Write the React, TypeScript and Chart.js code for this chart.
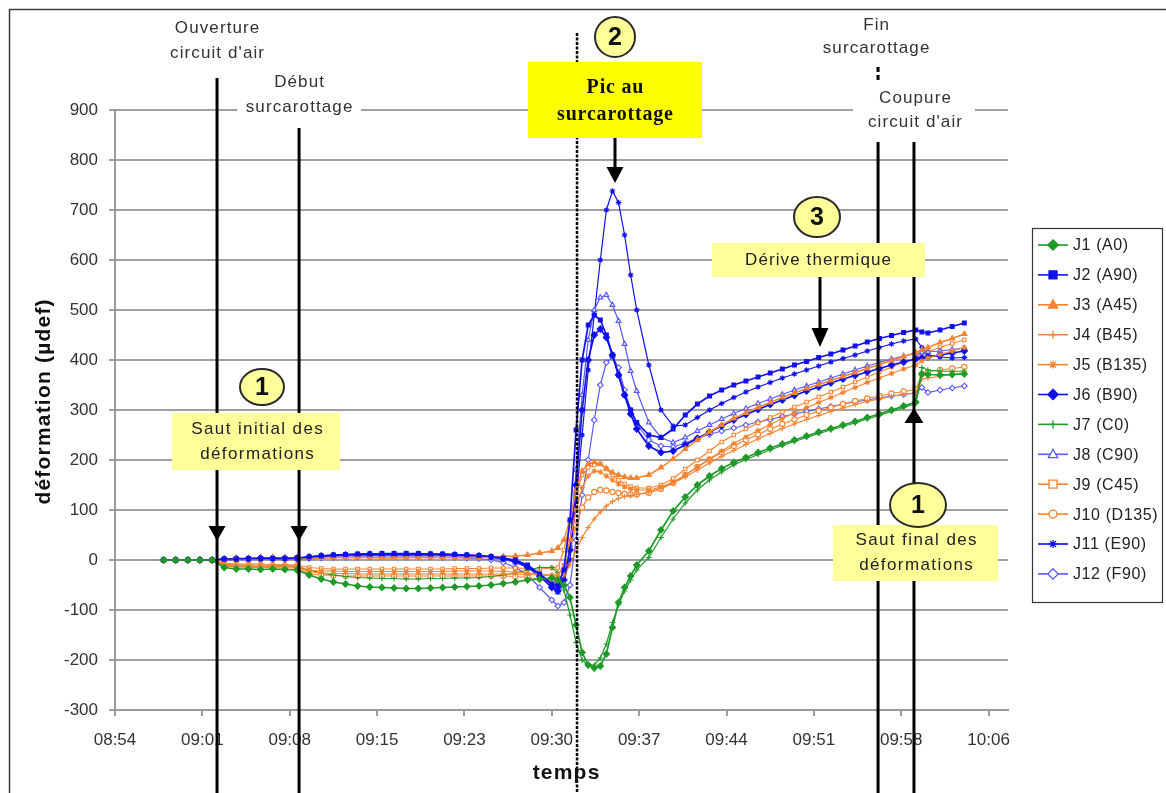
import React, { useEffect, useRef } from "react";
import { Chart, registerables } from "chart.js";

Chart.register(...registerables);

// ---------- DATA ----------
// x axis: minutes elapsed after 08:54, major unit 7.2 min (Excel 0.005 day)
const TICK_STEP_MIN = 7.2;
const X_MAX_MIN = 73.6;
const timeTickLabels = ["08:54", "09:01", "09:08", "09:15", "09:23", "09:30", "09:37", "09:44", "09:51", "09:58", "10:06"];
const yMin = -300;
const yMax = 900;
const yStep = 100;

// reading times (minutes after 08:54)
const minutes = [
  4, 5, 6, 7, 8, 9, 10, 11, 12, 13, 14, 15, 16, 17, 18, 19, 20, 21, 22, 23, 24, 25, 26, 27, 28, 29, 30, 31, 32, 33, 34, 35, 36,
  36.5, 37, 37.5, 38, 38.5, 39, 39.5, 40, 40.5, 41, 41.5, 42, 42.5, 43,
  44, 45, 46, 47, 48, 49, 50, 51, 52, 53, 54, 55, 56, 57, 58, 59, 60, 61, 62, 63, 64, 65, 66, 66.5, 67, 68, 69, 70,
];

const j1 = [
  0, 0, 0, 0, 0, -15, -18, -18, -19, -18, -19, -20, -30, -38, -44, -48, -52, -54, -55, -56, -57, -57, -56, -55, -54, -53, -52, -50, -47, -44, -40, -38, -36,
  -40, -50, -75, -130, -185, -210, -216, -212, -188, -135, -85, -55, -32, -10,
  18, 60, 98, 126, 150, 168, 183, 195, 205, 215, 224, 232, 240, 248, 256, 263, 270, 277, 285, 292, 300, 308, 316, 372, 371, 370, 371, 372,
];
const j2 = [
  0, 0, 0, 0, 0, 2, 2, 3, 3, 3, 3, 4, 6, 8, 10, 11, 12, 12, 13, 13, 13, 13, 12, 12, 11, 10, 9, 7, 4, 0, -10, -28, -48,
  -50, -20, 80, 260, 400, 470, 490, 480, 450, 410, 370, 330, 300, 275,
  250, 245, 262, 290, 312, 328, 340, 350, 358, 366, 374, 382, 390, 397, 405, 412, 420, 428, 436, 443, 449, 455, 460, 456, 454, 460, 467, 474,
];
const j3 = [
  0, 0, 0, 0, 0, 1, 2, 2, 2, 3, 3, 3, 4, 4, 5, 5, 5, 5, 4, 4, 5, 5, 5, 5, 5, 5, 5, 6, 7, 8, 10, 14, 18,
  24, 40, 80, 140, 178, 192, 196, 192, 183, 175, 170, 166, 164, 164,
  170, 185, 202, 222, 240, 256, 270, 283, 294, 305, 315, 325, 334, 343, 351, 359, 367, 375, 383, 391, 399, 407, 415, 420, 425, 435, 443, 452,
];
const j4 = [
  0, 0, 0, 0, 0, -10, -12, -12, -13, -13, -13, -14, -24, -26, -27, -27, -28, -28, -28, -28, -28, -28, -28, -28, -28, -28, -28, -28, -28, -28, -29, -30, -32,
  -35, -30, -10, 20, 45, 65, 82, 96, 108, 117, 123, 127, 129, 131,
  136, 144, 154, 166, 180, 194, 207, 219, 231, 242, 253, 263, 272, 281, 289, 297, 304, 311, 317, 322, 327, 331, 335, 362, 364, 367, 371, 375,
];
const j5 = [
  0, 0, 0, 0, 0, -8, -10, -10, -10, -11, -11, -12, -20, -22, -22, -23, -23, -23, -23, -23, -23, -23, -23, -23, -22, -22, -22, -22, -23, -24, -26, -28, -30,
  -30, -10, 40, 100, 145, 168, 178, 176, 168, 160, 152, 146, 142, 140,
  140, 146, 156, 170, 186, 202, 218, 233, 246, 259, 271, 283, 294, 305, 315, 325, 335, 345, 355, 364, 373, 382, 390, 398, 404, 411, 418, 425,
];
const j6 = [
  0, 0, 0, 0, 0, 2, 3, 3, 4, 4, 4, 4, 6, 8, 9, 10, 10, 11, 11, 11, 11, 11, 11, 10, 10, 9, 8, 6, 3, -3, -14, -32, -55,
  -62, -40, 20, 150, 300, 400, 450, 462, 445, 410, 370, 330, 292, 262,
  228, 215, 218, 230, 243, 256, 268, 280, 291, 301, 311, 320, 329, 338, 346, 354, 362, 369, 376, 383, 390, 396, 402, 404, 406, 410, 414, 418,
];
const j7 = [
  0, 0, 0, 0, 0, -10, -12, -12, -13, -12, -13, -14, -20, -26, -30, -33, -35, -36, -37, -37, -38, -38, -37, -37, -36, -36, -35, -33, -30, -26, -20, -15, -15,
  -25, -60, -110, -165, -200, -212, -210, -196, -168, -125, -90, -62, -40, -20,
  5, 45, 82, 114, 140, 160, 176, 190, 201, 211, 220, 229, 237, 245, 253, 260, 267, 274, 282, 289, 297, 305, 313, 385, 380, 378, 377, 378,
];
const j8 = [
  0, 0, 0, 0, 0, 0, 1, 1, 2, 2, 2, 2, 5, 6, 7, 8, 8, 9, 9, 9, 9, 9, 9, 8, 8, 7, 6, 4, 1, -5, -15, -30, -50,
  -65, -50, 30, 180, 330, 440, 500, 525, 530, 510, 478, 432, 378, 338,
  275, 245, 235, 245, 258, 270, 282, 293, 303, 313, 322, 331, 340, 348, 356, 364, 372, 380, 388, 395, 402, 408, 413, 415, 416, 418, 421, 424,
];
const j9 = [
  0, 0, 0, 0, 0, -6, -8, -8, -8, -9, -9, -10, -15, -17, -18, -18, -18, -18, -18, -18, -18, -18, -18, -18, -17, -17, -17, -16, -16, -16, -17, -18, -16,
  -15, 20, 70, 130, 170, 185, 190, 192, 182, 170, 160, 152, 147, 144,
  144, 150, 163, 182, 200, 218, 236, 250, 262, 274, 285, 296, 306, 316, 326, 336, 346, 356, 366, 376, 386, 395, 404, 410, 416, 425, 433, 440,
];
const j10 = [
  0, 0, 0, 0, 0, -12, -14, -15, -15, -15, -16, -16, -28, -30, -31, -32, -32, -32, -32, -32, -32, -32, -32, -32, -32, -32, -32, -32, -32, -33, -35, -38, -42,
  -45, -25, 20, 70, 105, 125, 136, 140, 139, 136, 134, 132, 131, 131,
  134, 142, 154, 170, 186, 201, 215, 228, 240, 251, 262, 272, 281, 290, 298, 305, 312, 318, 323, 328, 333, 337, 341, 372, 376, 380, 383, 386,
];
const j11 = [
  0, 0, 0, 0, 0, 1, 2, 2, 2, 3, 3, 3, 7, 9, 10, 11, 12, 13, 13, 13, 13, 13, 12, 12, 11, 10, 9, 7, 4, -2, -12, -28, -45,
  -55, -40, 0, 120, 250, 380, 490, 600, 700, 738, 715, 650, 570, 500,
  390, 300, 268, 270, 285, 300, 313, 325, 336, 346, 355, 364, 372, 380, 388, 396, 403, 410, 418, 425, 432, 438, 442, 425, 410, 406, 404, 405,
];
const j12 = [
  0, 0, 0, 0, 0, -1, 0, 0, 1, 1, 1, 1, 3, 4, 5, 5, 6, 6, 6, 6, 6, 6, 6, 5, 5, 4, 3, 0, -5, -15, -30, -55, -80,
  -92, -85, -50, 40, 130, 200, 280, 350, 395, 406, 385, 340, 300, 272,
  240, 228, 226, 234, 244, 251, 258, 264, 270, 276, 281, 287, 292, 297, 302, 307, 312, 316, 320, 324, 328, 331, 334, 345, 335, 340, 344, 348,
];

const seriesNames = ["J1 (A0)", "J2 (A90)", "J3 (A45)", "J4 (B45)", "J5 (B135)", "J6 (B90)", "J7 (C0)", "J8 (C90)", "J9 (C45)", "J10 (D135)", "J11 (E90)", "J12 (F90)"];
const seriesValues = [j1, j2, j3, j4, j5, j6, j7, j8, j9, j10, j11, j12];

// event times (minutes after 08:54): ouverture air, début surcarottage, pic, fin surcarottage, coupure air
const eventMinutes = [8.41, 15.17, 38.08, 62.89, 65.85];

// ---------- STYLES ----------
const GREEN = "#1f9a28";
const BLUE = "#1010ee";
const LBLUE = "#5858ff";
const ORANGE = "#f7832f";

type Sty = { color: string; marker: string; open: boolean; width: number; r: number };
const styles: Sty[] = [
  { color: GREEN, marker: "rectRot", open: false, width: 1.7, r: 3.1 },
  { color: BLUE, marker: "rect", open: false, width: 1.7, r: 2.7 },
  { color: ORANGE, marker: "triangle", open: false, width: 1.5, r: 3 },
  { color: ORANGE, marker: "cross", open: false, width: 1.2, r: 2.8 },
  { color: ORANGE, marker: "star", open: false, width: 1.2, r: 2.8 },
  { color: BLUE, marker: "rectRot", open: false, width: 1.7, r: 3.1 },
  { color: GREEN, marker: "cross", open: false, width: 1.2, r: 2.8 },
  { color: LBLUE, marker: "triangle", open: true, width: 1.2, r: 2.8 },
  { color: ORANGE, marker: "rect", open: true, width: 1.2, r: 2.4 },
  { color: ORANGE, marker: "circle", open: true, width: 1.2, r: 2.6 },
  { color: BLUE, marker: "star", open: false, width: 1.2, r: 2.8 },
  { color: LBLUE, marker: "rectRot", open: true, width: 1.2, r: 2.8 },
];

const SANS = "'Liberation Sans', Arial, sans-serif";
const SERIF = "'Liberation Serif', 'Times New Roman', serif";

function setSpacing(ctx: any, px: number) {
  if ("letterSpacing" in ctx) ctx.letterSpacing = px + "px";
}

function txt(ctx: CanvasRenderingContext2D, s: string, x: number, y: number, font: string, color: string, spacing = 0, align: CanvasTextAlign = "center") {
  ctx.font = font;
  ctx.fillStyle = color;
  ctx.textAlign = align;
  ctx.textBaseline = "middle";
  setSpacing(ctx, spacing);
  ctx.fillText(s, x + (align === "center" ? spacing / 2 : 0), y);
  setSpacing(ctx, 0);
}

function vline(ctx: CanvasRenderingContext2D, x: number, y1: number, y2: number, w: number) {
  ctx.lineWidth = w;
  ctx.beginPath();
  ctx.moveTo(x, y1);
  ctx.lineTo(x, y2);
  ctx.stroke();
}

function head(ctx: CanvasRenderingContext2D, x: number, tip: number, w: number, h: number, down: boolean) {
  ctx.beginPath();
  ctx.moveTo(x, tip);
  const b = down ? tip - h : tip + h;
  ctx.lineTo(x - w / 2, b);
  ctx.lineTo(x + w / 2, b);
  ctx.closePath();
  ctx.fill();
}

function bubble(ctx: CanvasRenderingContext2D, cx: number, cy: number, rx: number, ry: number, label: string) {
  ctx.beginPath();
  ctx.ellipse(cx, cy, rx, ry, 0, 0, Math.PI * 2);
  ctx.fillStyle = "#ffff99";
  ctx.fill();
  ctx.lineWidth = 2;
  ctx.strokeStyle = "#2a2a2a";
  ctx.stroke();
  txt(ctx, label, cx, cy + 1, `bold 25px ${SANS}`, "#111");
}

function drawMarker(ctx: CanvasRenderingContext2D, style: string, x: number, y: number, r: number, color: string, open: boolean) {
  ctx.save();
  ctx.strokeStyle = color;
  ctx.fillStyle = open ? "#ffffff" : color;
  ctx.lineWidth = 1.3;
  ctx.beginPath();
  if (style === "circle") {
    ctx.arc(x, y, r, 0, Math.PI * 2);
    ctx.fill();
    ctx.stroke();
  } else if (style === "rect") {
    ctx.rect(x - r, y - r, 2 * r, 2 * r);
    ctx.fill();
    ctx.stroke();
  } else if (style === "rectRot") {
    const k = r * 1.3;
    ctx.moveTo(x, y - k);
    ctx.lineTo(x + k, y);
    ctx.lineTo(x, y + k);
    ctx.lineTo(x - k, y);
    ctx.closePath();
    ctx.fill();
    ctx.stroke();
  } else if (style === "triangle") {
    ctx.moveTo(x, y - r * 1.25);
    ctx.lineTo(x + r * 1.15, y + r * 0.85);
    ctx.lineTo(x - r * 1.15, y + r * 0.85);
    ctx.closePath();
    ctx.fill();
    ctx.stroke();
  } else if (style === "cross") {
    ctx.moveTo(x - r, y);
    ctx.lineTo(x + r, y);
    ctx.moveTo(x, y - r);
    ctx.lineTo(x, y + r);
    ctx.stroke();
  } else if (style === "star") {
    ctx.moveTo(x - r, y);
    ctx.lineTo(x + r, y);
    ctx.moveTo(x, y - r);
    ctx.lineTo(x, y + r);
    const d = r * 0.75;
    ctx.moveTo(x - d, y - d);
    ctx.lineTo(x + d, y + d);
    ctx.moveTo(x - d, y + d);
    ctx.lineTo(x + d, y - d);
    ctx.stroke();
  }
  ctx.restore();
}

const overlayPlugin = {
  id: "overlay",
  afterDatasetsDraw(chart: any) {
    const ctx: CanvasRenderingContext2D = chart.ctx;
    const xs = chart.scales.x;
    const px = (t: number) => xs.getPixelForValue(t);
    const [tOuv, tDeb, tPic, tFin, tCoup] = eventMinutes;
    const H = chart.height;
    ctx.save();
    ctx.strokeStyle = "#000";
    ctx.fillStyle = "#000";

    // vertical event lines
    vline(ctx, px(tOuv), 78, H, 3);
    vline(ctx, px(tDeb), 128, H, 3);
    vline(ctx, px(tFin), 142, H, 3);
    vline(ctx, px(tCoup), 142, H, 3);
    ctx.setLineDash([3, 1.5]);
    vline(ctx, px(tPic), 33, H, 2.5);
    ctx.setLineDash([5, 3]);
    vline(ctx, px(tFin), 67, 83, 3);
    ctx.setLineDash([]);

    // arrow heads on lines
    ctx.fillStyle = "#000";
    head(ctx, px(tOuv), 541, 17, 15, true);
    head(ctx, px(tDeb), 541, 17, 15, true);
    head(ctx, px(tCoup), 408, 19, 15, false);

    // top labels
    const lab = `17px ${SANS}`;
    const gray = "#333";
    txt(ctx, "Ouverture", px(tOuv), 28, lab, gray, 1.1);
    txt(ctx, "circuit d'air", px(tOuv), 53, lab, gray, 1.1);

    ctx.fillStyle = "#fff";
    ctx.fillRect(px(tDeb) - 62, 96, 124, 22);
    txt(ctx, "Début", px(tDeb), 82, lab, gray, 1.1);
    txt(ctx, "surcarottage", px(tDeb), 107, lab, gray, 1.1);

    txt(ctx, "Fin", px(tFin) - 2, 25, lab, gray, 1.1);
    txt(ctx, "surcarottage", px(tFin) - 2, 48, lab, gray, 1.1);

    ctx.fillStyle = "#fff";
    ctx.fillRect(px(tCoup) - 61, 86, 122, 48);
    txt(ctx, "Coupure", px(tCoup) + 1, 98, lab, gray, 1.1);
    txt(ctx, "circuit d'air", px(tCoup) + 1, 122, lab, gray, 1.1);

    // peak annotation
    ctx.fillStyle = "#ffff00";
    ctx.fillRect(528, 62, 174, 76);
    txt(ctx, "Pic au", 615, 88, `bold 20px ${SERIF}`, "#111", 0.8);
    txt(ctx, "surcarottage", 615, 115, `bold 20px ${SERIF}`, "#111", 0.8);
    ctx.strokeStyle = "#000";
    ctx.fillStyle = "#000";
    vline(ctx, 615, 138, 170, 3);
    head(ctx, 615, 183, 17, 16, true);
    bubble(ctx, 615, 37, 20, 20, "2");

    // thermal drift
    ctx.fillStyle = "#ffff99";
    ctx.fillRect(712, 243, 213, 34);
    txt(ctx, "Dérive thermique", 818, 260, lab, "#222", 1.1);
    ctx.strokeStyle = "#000";
    ctx.fillStyle = "#000";
    vline(ctx, 820, 277, 332, 3);
    head(ctx, 820, 347, 17, 19, true);
    bubble(ctx, 817, 217, 23, 20, "3");

    // initial jump
    ctx.fillStyle = "#ffff99";
    ctx.fillRect(172, 413, 168, 57);
    txt(ctx, "Saut initial des", 257, 429, lab, "#222", 1.4);
    txt(ctx, "déformations", 257, 454, lab, "#222", 1.4);
    bubble(ctx, 262, 387, 22, 18, "1");

    // final jump
    ctx.fillStyle = "#ffff99";
    ctx.fillRect(833, 525, 165, 56);
    txt(ctx, "Saut final des", 916, 540, lab, "#222", 1.4);
    txt(ctx, "déformations", 916, 565, lab, "#222", 1.4);
    bubble(ctx, 918, 505, 28, 22, "1");

    ctx.restore();
  },
  afterDraw(chart: any) {
    const ctx: CanvasRenderingContext2D = chart.ctx;
    ctx.save();
    // outer frame
    ctx.strokeStyle = "#3a3a3a";
    ctx.lineWidth = 1.5;
    ctx.beginPath();
    ctx.moveTo(9.5, chart.height);
    ctx.lineTo(9.5, 9.5);
    ctx.lineTo(chart.width, 9.5);
    ctx.stroke();

    // axis titles
    txt(ctx, "temps", 566, 773, `bold 21px ${SANS}`, "#111", 1.2);
    ctx.save();
    ctx.translate(44, 402);
    ctx.rotate(-Math.PI / 2);
    txt(ctx, "déformation (µdef)", 0, 0, `bold 21px ${SANS}`, "#111", 1.2);
    ctx.restore();

    // legend
    const lx = 1032, ly = 228, lw = 130, lh = 374;
    ctx.fillStyle = "#fff";
    ctx.fillRect(lx, ly, lw, lh);
    ctx.strokeStyle = "#333";
    ctx.lineWidth = 1.2;
    ctx.strokeRect(lx + 0.5, ly + 0.5, lw, lh);
    seriesNames.forEach((name, i) => {
      const y = 245 + i * 29.9;
      const s = styles[i];
      ctx.strokeStyle = s.color;
      ctx.lineWidth = 1.6;
      ctx.beginPath();
      ctx.moveTo(1038, y);
      ctx.lineTo(1068, y);
      ctx.stroke();
      drawMarker(ctx, s.marker, 1053, y, 4, s.color, s.open);
      txt(ctx, name, 1073, y + 1, `16px ${SANS}`, "#222", 0.6, "left");
    });
    ctx.restore();
  },
};

export default function App() {
  const ref = useRef<HTMLCanvasElement>(null);
  useEffect(() => {
    document.body.style.margin = "0";
    const datasets = seriesValues.map((vals, i) => {
      const s = styles[i];
      return {
        label: seriesNames[i],
        data: minutes.map((t, k) => ({ x: t, y: vals[k] })),
        borderColor: s.color,
        backgroundColor: s.color,
        borderWidth: s.width,
        pointStyle: s.marker,
        pointRadius: s.r,
        pointBorderWidth: 1.1,
        pointBorderColor: s.color,
        pointBackgroundColor: s.open ? "#ffffff" : s.color,
        tension: 0,
        fill: false,
      };
    });
    const chart = new Chart(ref.current as HTMLCanvasElement, {
      type: "line",
      data: { datasets } as any,
      options: {
        animation: false,
        responsive: false,
        devicePixelRatio: 1,
        layout: { padding: { left: 0, top: 110, right: 158, bottom: 0 } },
        plugins: { legend: { display: false }, tooltip: { enabled: false } },
        scales: {
          x: {
            type: "linear",
            min: 0,
            max: X_MAX_MIN,
            afterFit: (scale: any) => {
              scale.height = 83;
            },
            afterBuildTicks: (scale: any) => {
              scale.ticks = timeTickLabels.map((_, i) => ({ value: i * TICK_STEP_MIN }));
            },
            ticks: {
              autoSkip: false,
              maxRotation: 0,
              padding: 14,
              color: "#333",
              font: { family: "'Liberation Sans', Arial, sans-serif", size: 17 },
              callback: (_v: any, i: number) => timeTickLabels[i],
            },
            grid: { drawOnChartArea: false, drawTicks: true, tickLength: 6, color: "#9a9a9a", lineWidth: 2 },
            border: { display: true, color: "#9a9a9a", width: 2 },
          },
          y: {
            type: "linear",
            min: yMin,
            max: yMax,
            afterFit: (scale: any) => {
              scale.width = 115;
            },
            ticks: {
              stepSize: yStep,
              padding: 11,
              color: "#333",
              font: { family: "'Liberation Sans', Arial, sans-serif", size: 17 },
            },
            grid: { color: "#a0a0a0", lineWidth: 2, tickLength: 6 },
            border: { display: true, color: "#9a9a9a", width: 2 },
          },
        },
      } as any,
      plugins: [overlayPlugin],
    });
    return () => chart.destroy();
  }, []);
  return <canvas ref={ref} width={1166} height={793} style={{ display: "block", width: 1166, height: 793 }} />;
}
